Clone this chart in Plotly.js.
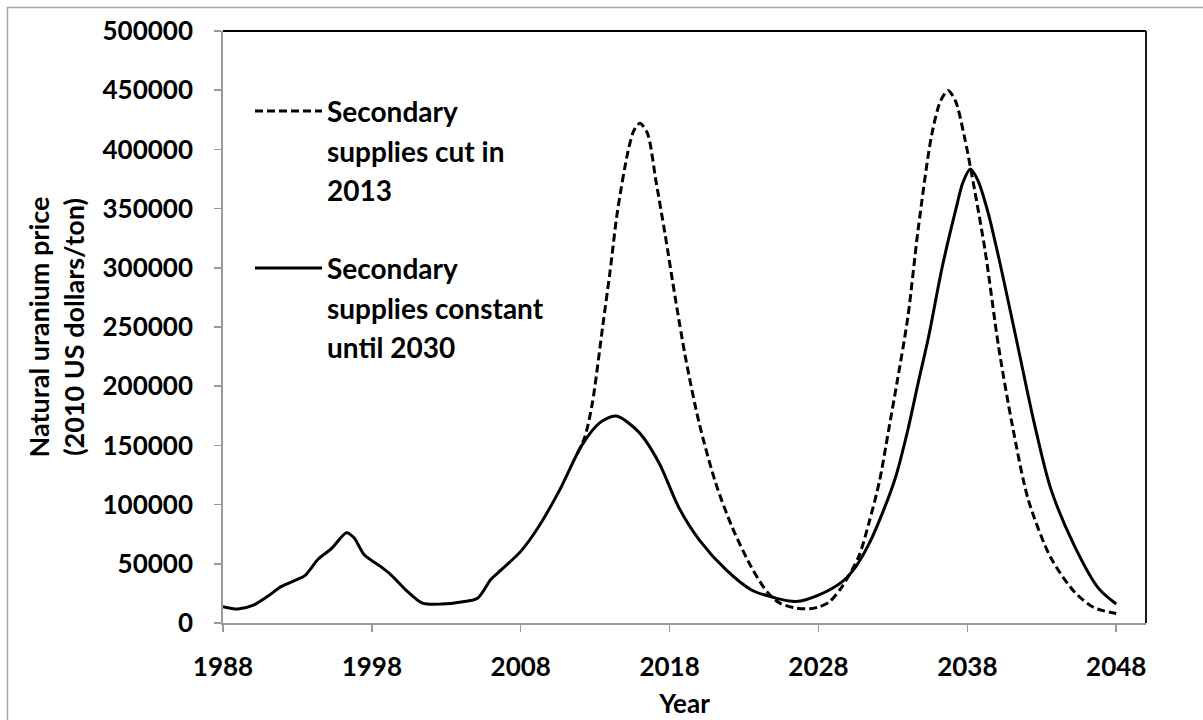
<!DOCTYPE html>
<html>
<head>
<meta charset="utf-8">
<script src="https://cdn.plot.ly/plotly-3.0.1.min.js"></script>
<style>
  html, body { margin: 0; padding: 0; background: #fff; }
  #chart { width: 1203px; height: 720px; }
</style>
</head>
<body>
<div id="chart"></div>
<script>
// ---- Data ----
const constantYears = [1988.0, 1989.0, 1990.0, 1991.0, 1991.9, 1993.0, 1993.5, 1994.4, 1995.3, 1996.3, 1996.8, 1997.5, 1998.6, 1999.3, 2000.4, 2001.4, 2002.7, 2004.0, 2005.1, 2006.0, 2006.7, 2008.0, 2009.2, 2010.6, 2012.1, 2013.3, 2014.4, 2015.9, 2017.3, 2018.6, 2020.0, 2021.8, 2023.5, 2025.0, 2026.5, 2028.0, 2029.6, 2030.5, 2031.4, 2032.3, 2033.2, 2034.0, 2034.7, 2035.4, 2036.3, 2037.2, 2037.7, 2038.2, 2038.7, 2039.4, 2040.3, 2041.4, 2042.5, 2043.6, 2045.2, 2046.8, 2048.0];
const constantPrice = [13800, 11800, 14800, 22500, 30700, 36900, 40000, 54000, 63000, 76300, 72000, 57400, 47600, 40500, 26500, 16800, 16000, 17800, 21000, 37000, 45000, 60500, 81300, 112000, 150000, 169000, 174800, 161600, 135000, 98000, 70000, 44800, 27900, 21500, 18200, 23600, 35000, 47500, 67000, 93000, 124000, 163000, 203000, 242000, 300000, 348000, 372000, 383400, 374000, 346200, 297700, 233100, 168400, 113500, 65000, 29500, 16000];

const cutYears = [2011.8, 2012.3, 2012.8, 2013.5, 2014.0, 2014.5, 2015.2, 2015.6, 2016.0, 2016.5, 2017.1, 2017.7, 2018.4, 2019.1, 2020.0, 2021.1, 2022.2, 2023.5, 2024.6, 2025.4, 2026.4, 2027.4, 2028.0, 2028.7, 2029.6, 2030.7, 2031.4, 2032.1, 2032.7, 2033.3, 2034.0, 2034.7, 2035.6, 2036.2, 2036.7, 2037.2, 2037.8, 2038.3, 2039.2, 2040.1, 2041.0, 2042.1, 2043.6, 2045.2, 2046.5, 2048.0];
const cutPrice = [143000, 157000, 185000, 250000, 297000, 348000, 398000, 416000, 422000, 414000, 372000, 328000, 273000, 222000, 168000, 118000, 81000, 47000, 25500, 16800, 12800, 12000, 13500, 17500, 31000, 56000, 85000, 120000, 162000, 205000, 258000, 333000, 412000, 441000, 449700, 441000, 410900, 378600, 313900, 233100, 168400, 103800, 55300, 26200, 13000, 8000];

const xTickValues = [1988, 1998, 2008, 2018, 2028, 2038, 2048];
const yTickValues = [0, 50000, 100000, 150000, 200000, 250000, 300000, 350000, 400000, 450000, 500000];

const cutLabelLines = ["Secondary", "supplies cut in", "2013"];
const constantLabelLines = ["Secondary", "supplies constant", "until 2030"];

const xTitle = "Year";
const yTitle = "Natural uranium price<br>(2010 US dollars/ton)";

// ---- Layout helpers ----
const W = 1203, H = 720;
const M = { l: 223, r: 57, t: 31, b: 97 };
const PW = W - M.l - M.r, PH = H - M.t - M.b;
const px = x => (x - M.l) / PW;     // pixel -> paper x
const py = y => (H - M.b - y) / PH; // pixel -> paper y

const FONT = "Lato, 'Open Sans', sans-serif";
const BOLD = 700;
const LW = 3;

const traces = [
  {
    x: cutYears, y: cutPrice, type: 'scatter', mode: 'lines',
    name: 'Secondary supplies cut in 2013',
    line: { color: '#000', width: LW, dash: '8px,4px', shape: 'spline', smoothing: 0.8 },
    showlegend: false, hoverinfo: 'x+y'
  },
  {
    x: constantYears, y: constantPrice, type: 'scatter', mode: 'lines',
    name: 'Secondary supplies constant until 2030',
    line: { color: '#000', width: LW, shape: 'spline', smoothing: 0.8 },
    showlegend: false, hoverinfo: 'x+y'
  }
];

// Legend drawn inside the plot, as in the reference
const legendRows = [
  { lines: cutLabelLines, y0: 111, dash: '8px,4px' },
  { lines: constantLabelLines, y0: 268, dash: 'solid' }
];
const lineStep = 39.5;
const annotations = [];
const shapes = [];
legendRows.forEach(row => {
  shapes.push({
    type: 'line', xref: 'paper', yref: 'paper',
    x0: px(255), x1: px(322), y0: py(row.y0), y1: py(row.y0),
    line: { color: '#000', width: LW, dash: row.dash }
  });
  row.lines.forEach((t, i) => {
    annotations.push({
      xref: 'paper', yref: 'paper', x: px(325), y: py(row.y0 + i * lineStep),
      xanchor: 'left', yanchor: 'middle', showarrow: false, text: t,
      font: { family: FONT, size: 28, color: '#000', weight: BOLD }
    });
  });
});

// Top and right frame lines (black), outer picture border (grey)
shapes.push({ type: 'line', xref: 'paper', yref: 'paper', x0: 0, x1: 1, y0: 1, y1: 1, line: { color: '#000', width: 1.8 } });
shapes.push({ type: 'line', xref: 'paper', yref: 'paper', x0: 1, x1: 1, y0: 0, y1: 1, line: { color: '#000', width: 1.8 } });
shapes.push({ type: 'rect', xref: 'paper', yref: 'paper', x0: px(7.5), x1: px(1215), y0: py(735), y1: py(7.5), line: { color: '#a6a6a6', width: 1.5 }, fillcolor: 'rgba(0,0,0,0)' });

const layout = {
  width: W, height: H,
  margin: M,
  paper_bgcolor: '#fff', plot_bgcolor: '#fff',
  showlegend: false,
  font: { family: FONT, color: '#000', size: 26, weight: BOLD },
  xaxis: {
    range: [1988, 2050], tickvals: xTickValues, ticktext: xTickValues.map(String),
    showgrid: false, zeroline: false, showline: true, linecolor: '#9a9a9a', linewidth: 1.8,
    ticks: 'outside', ticklen: 7, tickwidth: 1.5, tickcolor: '#9a9a9a',
    tickfont: { family: FONT, size: 26, color: '#000', weight: BOLD },
    ticklabelstandoff: 13,
    title: { text: xTitle, font: { family: FONT, size: 26, color: '#000', weight: BOLD }, standoff: 14 }
  },
  yaxis: {
    range: [0, 500000], tickvals: yTickValues, ticktext: yTickValues.map(String),
    showgrid: false, zeroline: false, showline: true, linecolor: '#9a9a9a', linewidth: 1.8,
    ticks: 'outside', ticklen: 7, tickwidth: 1.5, tickcolor: '#9a9a9a',
    tickfont: { family: FONT, size: 26, color: '#000', weight: BOLD },
    ticklabelstandoff: 16,
    title: { text: yTitle, font: { family: FONT, size: 27, color: '#000', weight: BOLD }, standoff: 10 }
  },
  shapes: shapes,
  annotations: annotations
};

Plotly.newPlot('chart', traces, layout, { displayModeBar: false, staticPlot: true });
</script>
</body>
</html>
